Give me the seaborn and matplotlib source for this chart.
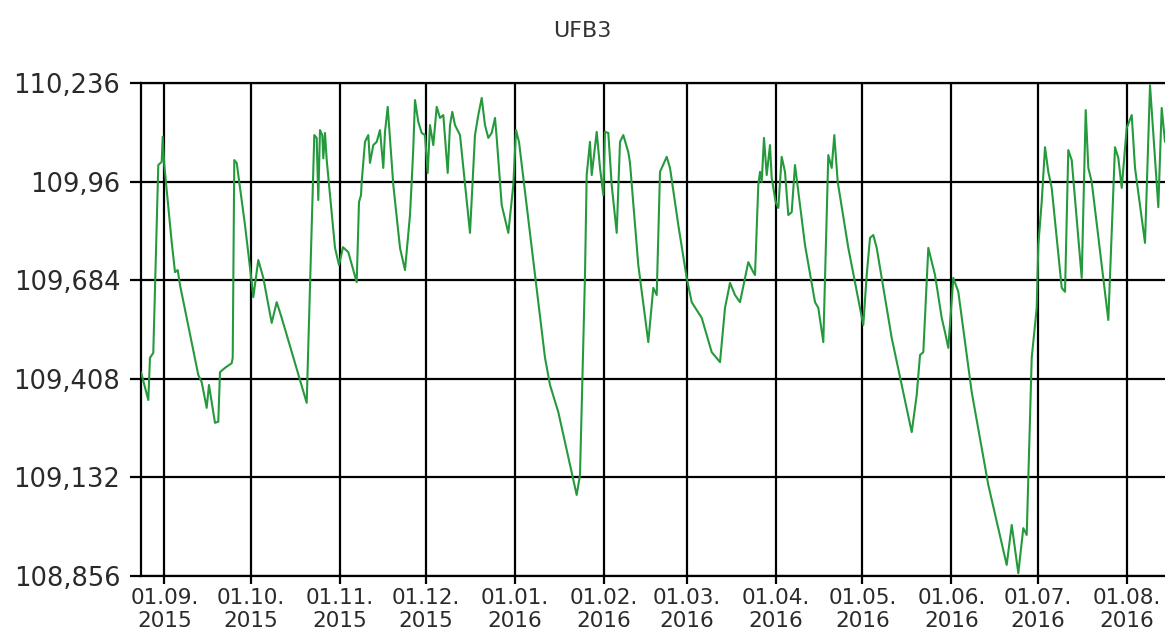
import matplotlib
matplotlib.use("Agg")
import matplotlib.pyplot as plt
import matplotlib.dates as mdates
import numpy as np
import pandas as pd
import seaborn as sns

# ---- data ----
# day offsets from 2015-09-01 and the UFB3 values
start_date = "2015-09-01"
days = [
    -8.18, -5.64, -5.05, -3.90, -2.16, -0.97, -0.63, -0.07, 2.51, 3.66,
    4.60, 5.40, 11.77, 12.95, 14.69, 15.49, 17.58, 18.73, 19.32, 21.07,
    23.40, 23.75, 24.30, 25.14, 28.03, 30.36, 30.92, 32.66, 34.40, 37.33,
    39.07, 40.81, 49.51, 52.16, 52.99, 53.55, 54.14, 54.94, 55.29, 55.88,
    56.48, 59.37, 60.76, 62.15, 64.00, 66.92, 67.72, 68.42, 68.66, 69.81,
    70.96, 71.55, 72.70, 73.89, 75.03, 76.18, 76.78, 77.72, 79.67, 82.00,
    83.74, 85.48, 86.07, 86.63, 87.22, 88.37, 89.55, 90.70, 91.64, 92.44,
    93.59, 94.78, 95.93, 97.08, 98.61, 99.41, 100.21, 101.15, 102.89, 106.37,
    108.11, 109.26, 110.45, 111.59, 112.74, 113.93, 115.08, 115.67, 117.41, 119.71,
    121.45, 122.39, 123.43, 132.49, 134.23, 137.12, 143.52, 144.67, 146.41, 147.00,
    148.15, 148.75, 150.49, 151.64, 152.78, 153.38, 154.53, 155.71, 157.45, 158.60,
    159.75, 161.49, 162.08, 164.97, 168.45, 170.19, 171.38, 172.53, 174.86, 176.01,
    178.90, 181.82, 183.56, 187.05, 190.53, 193.42, 195.16, 196.90, 198.64, 200.38,
    203.27, 205.01, 205.61, 206.75, 207.35, 207.94, 208.74, 209.68, 210.83, 211.42,
    212.81, 213.72, 214.90, 216.05, 217.20, 218.38, 219.53, 223.01, 226.50, 227.65,
    229.39, 231.13, 232.31, 233.22, 234.40, 238.09, 243.31, 244.50, 245.65, 246.80,
    247.98, 253.20, 260.17, 261.91, 263.06, 264.21, 265.95, 268.29, 270.61, 271.76,
    272.91, 274.65, 276.39, 281.06, 286.84, 293.24, 294.99, 297.28, 299.02, 300.21,
    301.95, 303.69, 304.25, 305.42, 306.58, 307.73, 308.91, 312.40, 313.55, 314.69,
    315.88, 319.36, 320.75, 321.66, 322.84, 328.62, 330.95, 332.10, 333.29, 335.03,
    336.77, 337.92, 341.40, 343.14, 344.88, 346.03, 347.21, 348.36,
]
values = [
    109.427, 109.349, 109.467, 109.481, 110.007, 110.016, 110.086, 110.007, 109.791, 109.707,
    109.713, 109.671, 109.419, 109.399, 109.327, 109.391, 109.285, 109.288, 109.427, 109.439,
    109.452, 109.467, 110.021, 110.013, 109.839, 109.679, 109.637, 109.741, 109.691, 109.565,
    109.623, 109.579, 109.341, 110.091, 110.083, 109.909, 110.105, 110.091, 110.026, 110.097,
    110.021, 109.775, 109.727, 109.777, 109.763, 109.679, 109.903, 109.923, 109.960, 110.072,
    110.091, 110.013, 110.063, 110.072, 110.105, 109.999, 110.100, 110.170, 109.951, 109.775,
    109.713, 109.867, 109.960, 110.055, 110.189, 110.128, 110.097, 110.091, 109.985, 110.119,
    110.063, 110.170, 110.139, 110.147, 109.985, 110.119, 110.156, 110.119, 110.091, 109.817,
    110.091, 110.147, 110.195, 110.119, 110.083, 110.097, 110.139, 110.083, 109.895, 109.817,
    109.951, 110.105, 110.072, 109.467, 109.391, 109.315, 109.083, 109.139, 109.699, 109.979,
    110.072, 109.979, 110.100, 109.999, 109.923, 110.100, 110.097, 109.951, 109.817, 110.072,
    110.091, 110.043, 110.013, 109.727, 109.511, 109.663, 109.643, 109.988, 110.030, 109.999,
    109.839, 109.691, 109.623, 109.579, 109.483, 109.455, 109.607, 109.677, 109.643, 109.623,
    109.735, 109.707, 109.699, 109.951, 109.988, 109.960, 110.083, 109.979, 110.063, 109.971,
    109.903, 109.887, 110.030, 109.988, 109.867, 109.875, 110.007, 109.783, 109.623, 109.607,
    109.511, 110.035, 109.999, 110.091, 109.960, 109.775, 109.559, 109.699, 109.803, 109.811,
    109.775, 109.523, 109.259, 109.363, 109.475, 109.483, 109.775, 109.699, 109.579, 109.539,
    109.495, 109.691, 109.652, 109.371, 109.111, 108.887, 108.999, 108.864, 108.990, 108.971,
    109.467, 109.607, 109.783, 109.903, 110.057, 109.988, 109.943, 109.663, 109.652, 110.049,
    110.021, 109.691, 110.161, 109.999, 109.960, 109.573, 110.057, 110.027, 109.943, 110.111,
    110.147, 109.999, 109.789, 110.231, 110.027, 109.889, 110.167, 110.072,
]
y_ticks = [108.856, 109.132, 109.408, 109.684, 109.96, 110.236]
y_tick_labels = ["108,856", "109,132", "109,408", "109,684", "109,96", "110,236"]
title = "UFB3"

# ---- figure ----
sns.set_style("white")
plt.rcParams["font.family"] = ["DejaVu Sans"]

df = pd.DataFrame({
    "date": pd.Timestamp(start_date) + pd.to_timedelta(days, unit="D"),
    "value": values,
})

fig = plt.figure(figsize=(11.65, 6.34), dpi=100)
ax = fig.add_axes([141 / 1165, 1 - 576 / 634, 1 - 141 / 1165, (576 - 83.3) / 634])

sns.lineplot(data=df, x="date", y="value", ax=ax, color="#259a3c",
             linewidth=1.5, zorder=3)

ax.set_xlim(df["date"].iloc[0], df["date"].iloc[-1])
ax.set_ylim(y_ticks[0], y_ticks[-1])
ax.set_yticks(y_ticks)
ax.set_yticklabels(y_tick_labels)

ax.xaxis.set_major_locator(mdates.MonthLocator())
ax.xaxis.set_major_formatter(mdates.DateFormatter("%d.%m.\n%Y"))

ax.grid(True, color="black", linewidth=1.6, zorder=1)
ax.set_axisbelow(True)

for side in ["left", "top", "bottom"]:
    ax.spines[side].set_visible(True)
    ax.spines[side].set_color("black")
    ax.spines[side].set_linewidth(1.6)
ax.spines["right"].set_visible(False)

ax.tick_params(axis="y", which="major", left=True, length=8, width=1.6,
               color="black", pad=7, labelsize=18.5, labelcolor="#2a2a2a")
ax.tick_params(axis="x", which="major", bottom=True, length=5.5, width=1.6,
               color="black", pad=3, labelsize=15.5, labelcolor="#2a2a2a")

ax.set_xlabel("")
ax.set_ylabel("")

fig.text(0.5, 1 - 31 / 634, title, ha="center", va="center",
         fontsize=16, color="#333333")

fig.savefig("out.png", dpi=100, facecolor="white")
